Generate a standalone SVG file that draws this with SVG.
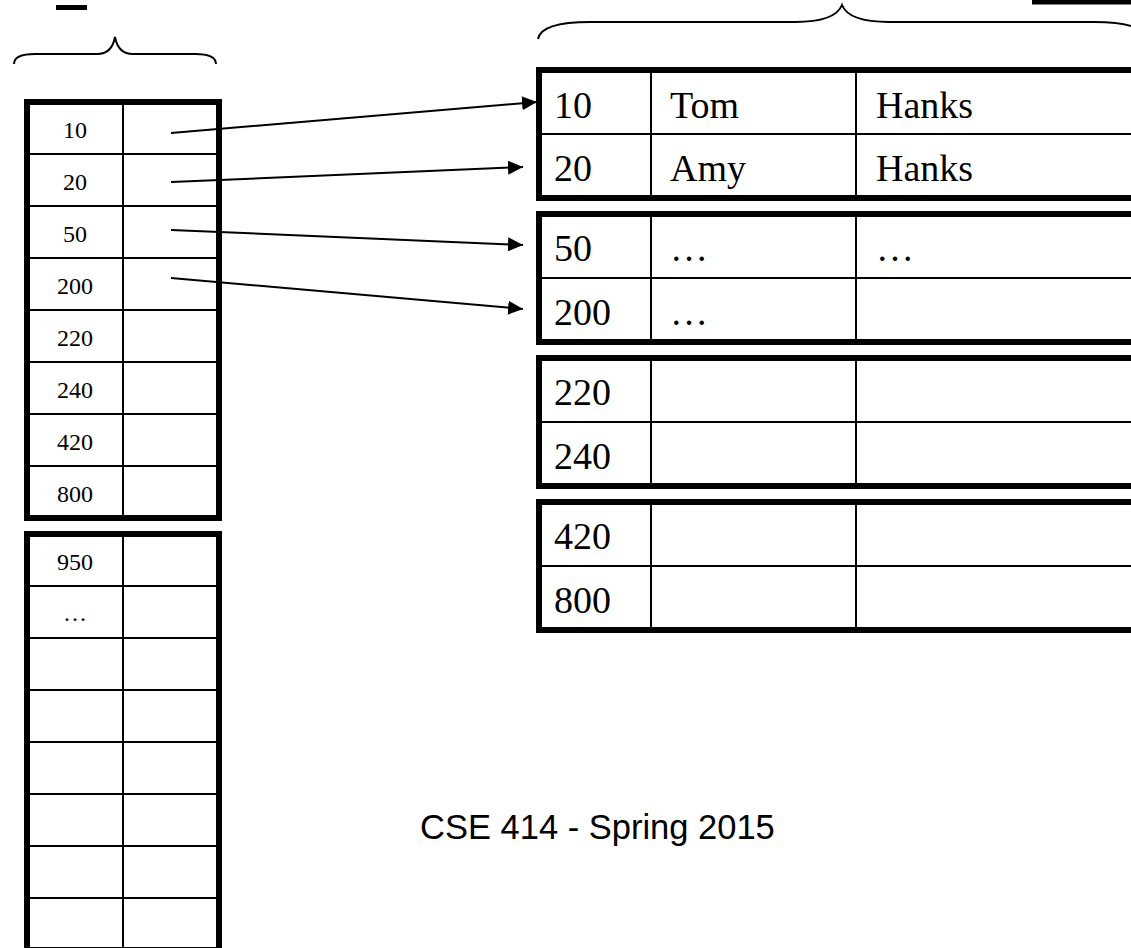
<svg xmlns="http://www.w3.org/2000/svg" width="1131" height="948" viewBox="0 0 1131 948">
<style>
.outer{fill:none;stroke:#000;stroke-width:6}
.grid{stroke:#000;stroke-width:2;fill:none}
.brace{fill:none;stroke:#000;stroke-width:2}
.sm{font-family:"Liberation Serif","Times New Roman",serif;font-size:24px;fill:#000;text-anchor:middle}
.lg{font-family:"Liberation Serif","Times New Roman",serif;font-size:38px;fill:#000}
.foot{font-family:"Liberation Sans",Arial,sans-serif;font-size:34.5px;fill:#000}
.conn{stroke:#000;stroke-width:2;fill:none}
</style>
<defs>
<marker id="ah" markerUnits="userSpaceOnUse" markerWidth="15" markerHeight="14" refX="15" refY="7" orient="auto">
<path d="M0,0 L15,7 L0,14 z" fill="#000"/>
</marker>
</defs>
<rect width="1131" height="948" fill="#fff"/>
<!-- cropped fragments at top -->
<rect x="56" y="5" width="31" height="5" fill="#000"/>
<rect x="1032" y="0" width="99" height="4.5" fill="#000"/>
<!-- braces -->
<g id="brace-left">
<path class="brace" d="M14,64 C14,58 20,54 35,54 L97,54 C108,54 113,48 115,37 C117,48 122,54 133,54 L195,54 C210,54 216,58 216,64"/>
</g>
<g id="brace-right">
<path class="brace" d="M538,39 C540,28 558,22 590,22 L795,22 C825,22 838,15 842,5 C846,15 859,22 889,22 L1094,22 C1126,22 1144,28 1146,39"/>
</g>
<!-- left index table, block 1 -->
<g id="index-block-1">
<line class="grid" x1="123" y1="102" x2="123" y2="518"/>
<line class="grid" x1="27" y1="154" x2="219" y2="154"/>
<line class="grid" x1="27" y1="206" x2="219" y2="206"/>
<line class="grid" x1="27" y1="258" x2="219" y2="258"/>
<line class="grid" x1="27" y1="310" x2="219" y2="310"/>
<line class="grid" x1="27" y1="362" x2="219" y2="362"/>
<line class="grid" x1="27" y1="414" x2="219" y2="414"/>
<line class="grid" x1="27" y1="466" x2="219" y2="466"/>
<rect class="outer" x="27" y="102" width="192" height="416"/>
<text class="sm" x="75" y="138">10</text>
<text class="sm" x="75" y="190">20</text>
<text class="sm" x="75" y="242">50</text>
<text class="sm" x="75" y="294">200</text>
<text class="sm" x="75" y="346">220</text>
<text class="sm" x="75" y="398">240</text>
<text class="sm" x="75" y="450">420</text>
<text class="sm" x="75" y="502">800</text>
</g>
<!-- left index table, block 2 -->
<g id="index-block-2">
<line class="grid" x1="123" y1="534" x2="123" y2="950"/>
<line class="grid" x1="27" y1="586" x2="219" y2="586"/>
<line class="grid" x1="27" y1="638" x2="219" y2="638"/>
<line class="grid" x1="27" y1="690" x2="219" y2="690"/>
<line class="grid" x1="27" y1="742" x2="219" y2="742"/>
<line class="grid" x1="27" y1="794" x2="219" y2="794"/>
<line class="grid" x1="27" y1="846" x2="219" y2="846"/>
<line class="grid" x1="27" y1="898" x2="219" y2="898"/>
<rect class="outer" x="27" y="534" width="192" height="416"/>
<text class="sm" x="75" y="570">950</text>
<text class="sm" x="75" y="621">…</text>
</g>
<!-- data blocks -->
<g id="data-block-1">
<line class="grid" x1="539" y1="134" x2="1160" y2="134"/>
<line class="grid" x1="651" y1="70" x2="651" y2="198"/>
<line class="grid" x1="856" y1="70" x2="856" y2="198"/>
<rect class="outer" x="539" y="70" width="620" height="128"/>
<text class="lg" x="554" y="118">10</text>
<text class="lg" x="670" y="118">Tom</text>
<text class="lg" x="876" y="118">Hanks</text>
<text class="lg" x="554" y="181">20</text>
<text class="lg" x="670" y="181">Amy</text>
<text class="lg" x="876" y="181">Hanks</text>
</g>
<g id="data-block-2">
<line class="grid" x1="539" y1="278" x2="1160" y2="278"/>
<line class="grid" x1="651" y1="214" x2="651" y2="342"/>
<line class="grid" x1="856" y1="214" x2="856" y2="342"/>
<rect class="outer" x="539" y="214" width="620" height="128"/>
<text class="lg" x="554" y="261">50</text>
<text class="lg" x="670" y="261">…</text>
<text class="lg" x="876" y="261">…</text>
<text class="lg" x="554" y="325">200</text>
<text class="lg" x="670" y="325">…</text>
</g>
<g id="data-block-3">
<line class="grid" x1="539" y1="422" x2="1160" y2="422"/>
<line class="grid" x1="651" y1="358" x2="651" y2="486"/>
<line class="grid" x1="856" y1="358" x2="856" y2="486"/>
<rect class="outer" x="539" y="358" width="620" height="128"/>
<text class="lg" x="554" y="405">220</text>
<text class="lg" x="554" y="469">240</text>
</g>
<g id="data-block-4">
<line class="grid" x1="539" y1="566" x2="1160" y2="566"/>
<line class="grid" x1="651" y1="502" x2="651" y2="630"/>
<line class="grid" x1="856" y1="502" x2="856" y2="630"/>
<rect class="outer" x="539" y="502" width="620" height="128"/>
<text class="lg" x="554" y="549">420</text>
<text class="lg" x="554" y="613">800</text>
</g>
<!-- connectors -->
<g id="connectors">
<line class="conn" x1="171" y1="133" x2="537" y2="102" marker-end="url(#ah)"/>
<line class="conn" x1="171" y1="182" x2="523" y2="167" marker-end="url(#ah)"/>
<line class="conn" x1="171" y1="230" x2="523" y2="245" marker-end="url(#ah)"/>
<line class="conn" x1="171" y1="278" x2="523" y2="309" marker-end="url(#ah)"/>
</g>
<g id="footer">
<text class="foot" x="420" y="839">CSE 414 - Spring 2015</text>
</g>
</svg>
